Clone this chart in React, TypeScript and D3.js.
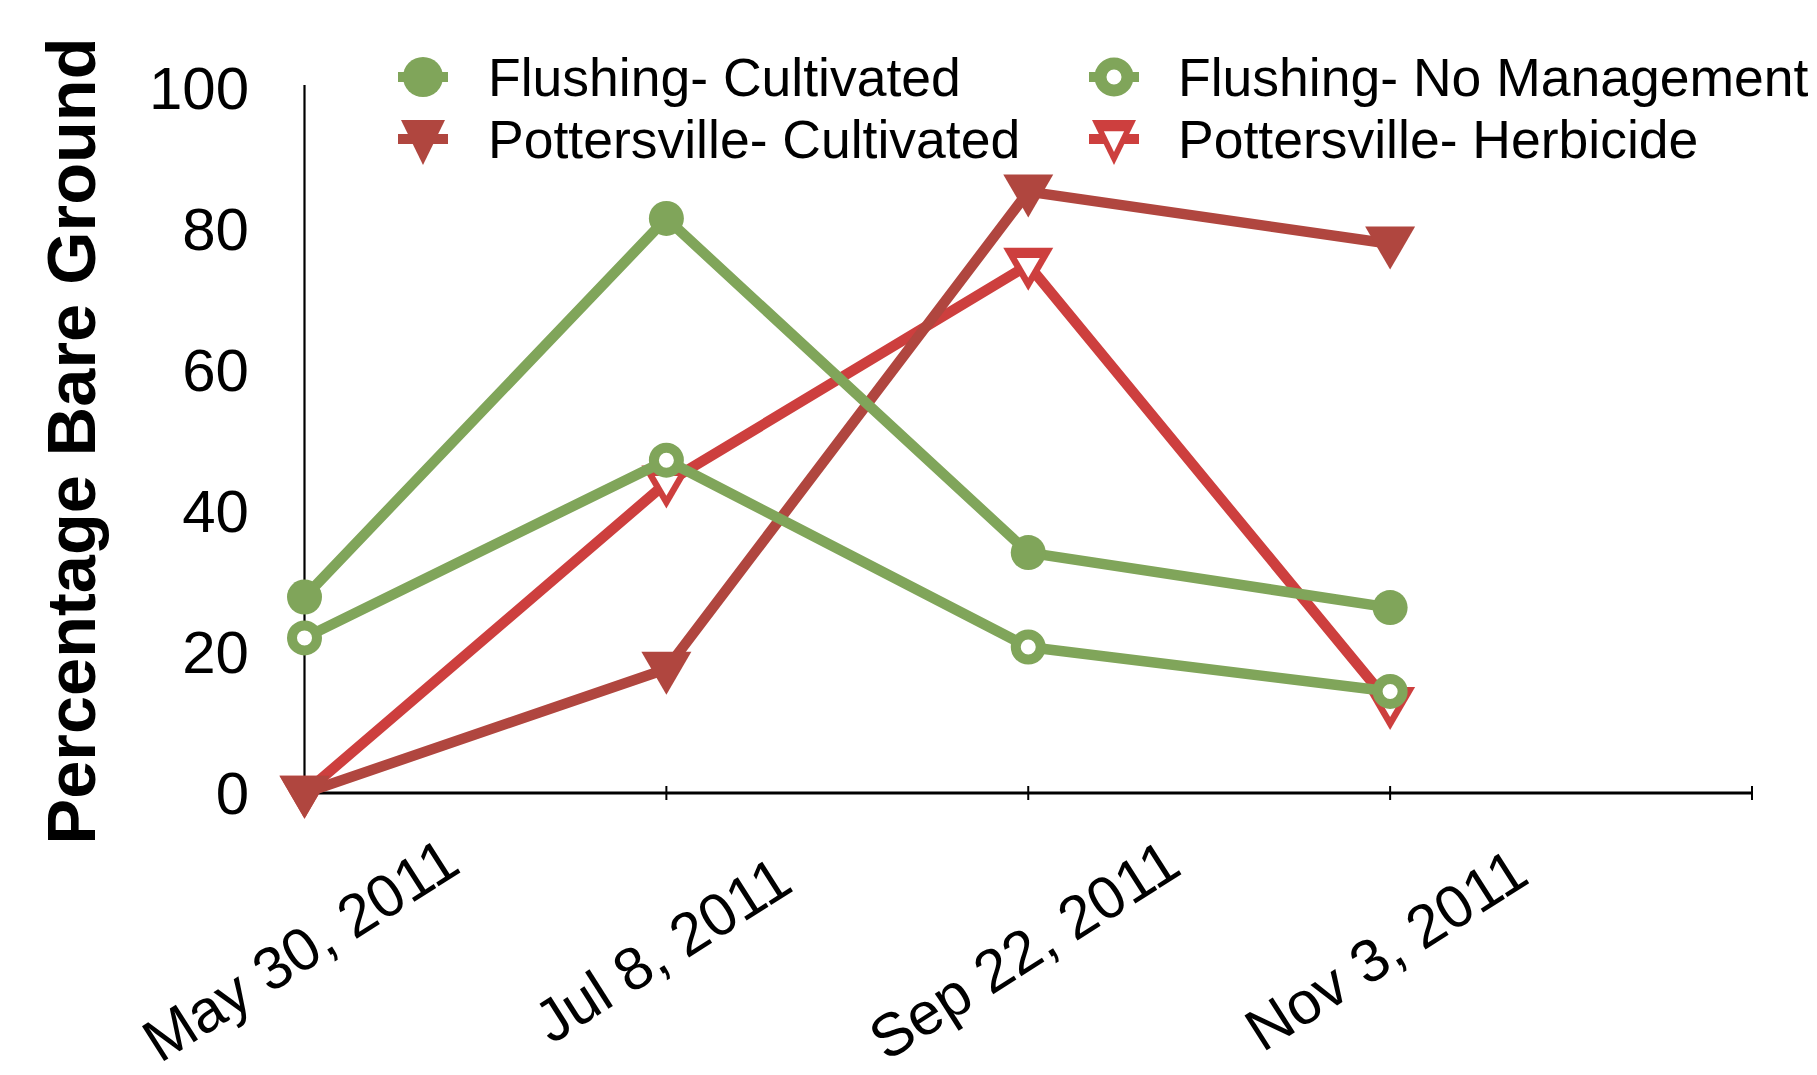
import React, { useEffect } from "react";
import * as d3 from "d3";

const dates = ["May 30, 2011", "Jul 8, 2011", "Sep 22, 2011", "Nov 3, 2011"];
const flushingCultivated = [27.8, 81.5, 34.1, 26.3];
const flushingNoManagement = [22.0, 47.2, 20.7, 14.4];
const pottersvilleCultivated = [0, 17.6, 85.3, 77.9];
const pottersvilleHerbicide = [0, 44.0, 74.9, 12.6];
const yTicks = [0, 20, 40, 60, 80, 100];

const GREEN = "#80a55a";
const DARKRED = "#b0463f";
const RED = "#cd3f3e";
const FONT = "'Liberation Sans', Arial, Helvetica, sans-serif";

type Marker = "filledCircle" | "openCircle" | "filledTri" | "openTri";

const seriesList: { name: string; values: number[]; color: string; marker: Marker }[] = [
  { name: "Pottersville- Herbicide", values: pottersvilleHerbicide, color: RED, marker: "openTri" },
  { name: "Pottersville- Cultivated", values: pottersvilleCultivated, color: DARKRED, marker: "filledTri" },
  { name: "Flushing- Cultivated", values: flushingCultivated, color: GREEN, marker: "filledCircle" },
  { name: "Flushing- No Management", values: flushingNoManagement, color: GREEN, marker: "openCircle" },
];

const legendItems: { name: string; color: string; marker: Marker }[] = [
  { name: "Flushing- Cultivated", color: GREEN, marker: "filledCircle" },
  { name: "Flushing- No Management", color: GREEN, marker: "openCircle" },
  { name: "Pottersville- Cultivated", color: DARKRED, marker: "filledTri" },
  { name: "Pottersville- Herbicide", color: RED, marker: "openTri" },
];

function triPath(cx: number, cy: number, w: number, h: number, topFrac = 0.4) {
  const top = cy - topFrac * h;
  return `M${cx - w / 2},${top}L${cx + w / 2},${top}L${cx},${top + h}Z`;
}

function MarkerShape({ type, x, y, color, big }: { type: Marker; x: number; y: number; color: string; big?: boolean }) {
  if (type === "filledCircle") {
    return <circle cx={x} cy={y} r={big ? 20 : 17.5} fill={color} />;
  }
  if (type === "openCircle") {
    return big ? (
      <circle cx={x} cy={y} r={13.5} fill="#fff" stroke={color} strokeWidth={12} />
    ) : (
      <circle cx={x} cy={y} r={12.5} fill="#fff" stroke={color} strokeWidth={10} />
    );
  }
  const w = big ? 44 : 50;
  const h = big ? 45 : 43;
  const tf = big ? 0.42 : 0.4;
  if (type === "filledTri") {
    return <path d={triPath(x, y, w, h, tf)} fill={color} />;
  }
  return (
    <g>
      <path d={triPath(x, y, w, h, tf)} fill={color} />
      <path d={triPath(x, y + 1, w * 0.46, h * 0.46, tf)} fill="#fff" />
    </g>
  );
}

export default function App() {
  useEffect(() => {
    document.body.style.margin = "0";
  }, []);

  const width = 1817;
  const height = 1075;
  const x = d3.scaleLinear().domain([0, 4]).range([304.5, 1752]);
  const y = d3.scaleLinear().domain([0, 100]).range([793, 88]);
  const line = d3
    .line<number>()
    .x((_, i) => x(i))
    .y((d) => y(d));

  const axisTicks = d3.range(1, 5);

  const legendCols = [423, 1114];
  const legendTextX = [488, 1178];
  const legendRows = [77, 139];

  return (
    <div style={{ position: "absolute", left: 0, top: 0 }}>
      <svg width={width} height={height} style={{ display: "block", background: "#fff" }} fontFamily={FONT}>
        <rect width={width} height={height} fill="#fff" />

        {/* Y axis title */}
        <text
          transform={`translate(95,441) rotate(-90)`}
          textAnchor="middle"
          fontSize={68.5}
          fontWeight="bold"
          fill="#000"
        >
          Percentage Bare Ground
        </text>

        {/* Y tick labels */}
        {yTicks.map((t) => (
          <text key={t} x={249} y={y(t) + 21} textAnchor="end" fontSize={60} fill="#000">
            {t}
          </text>
        ))}

        {/* Axes */}
        <line x1={x(0)} x2={x(0)} y1={y(100) - 3} y2={y(0)} stroke="#000" strokeWidth={2.2} />
        <line x1={x(0)} x2={x(4)} y1={y(0)} y2={y(0)} stroke="#000" strokeWidth={2.8} />
        {axisTicks.map((i) => (
          <line key={i} x1={x(i)} x2={x(i)} y1={y(0) - 7} y2={y(0) + 7} stroke="#000" strokeWidth={2} />
        ))}

        {/* X tick labels */}
        {dates.map((d, i) => (
          <text
            key={d}
            transform={`translate(${x(i) - 4},950) rotate(-32.5)`}
            textAnchor="middle"
            dominantBaseline="central"
            fontSize={60}
            fill="#000"
          >
            {d}
          </text>
        ))}

        {/* Series */}
        {seriesList.map((s) => (
          <g key={s.name}>
            <path d={line(s.values) || ""} fill="none" stroke={s.color} strokeWidth={10.5} strokeLinejoin="round" />
            {s.values.map((v, i) => (
              <MarkerShape key={i} type={s.marker} x={x(i)} y={y(v)} color={s.color} />
            ))}
          </g>
        ))}

        {/* Legend */}
        {legendItems.map((item, k) => {
          const col = k % 2;
          const row = Math.floor(k / 2);
          const cx = legendCols[col];
          const cy = legendRows[row];
          return (
            <g key={item.name}>
              <line x1={cx - 25} x2={cx + 25} y1={cy} y2={cy} stroke={item.color} strokeWidth={10} />
              <MarkerShape type={item.marker} x={cx} y={cy} color={item.color} big />
              <text x={legendTextX[col]} y={cy + 19} fontSize={53.5} fill="#000">
                {item.name}
              </text>
            </g>
          );
        })}
      </svg>
    </div>
  );
}
